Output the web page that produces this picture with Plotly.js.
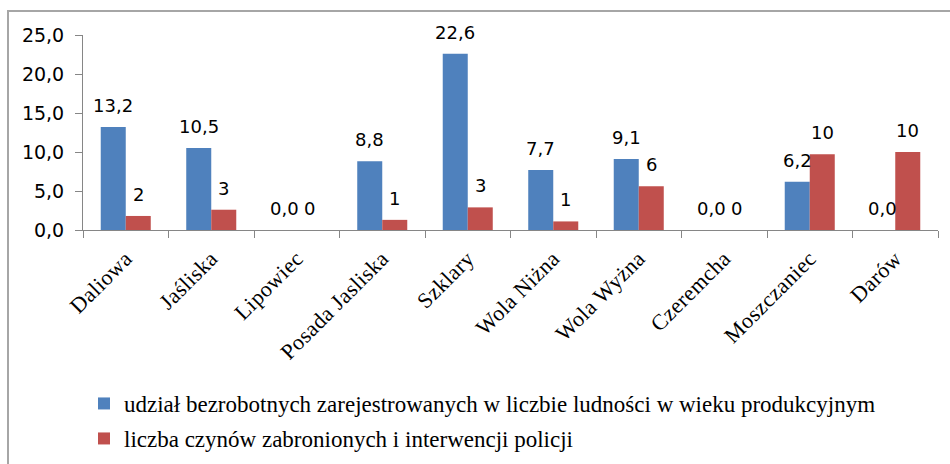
<!DOCTYPE html>
<html>
<head>
<meta charset="utf-8">
<script src="https://cdn.plot.ly/plotly-3.0.1.min.js"></script>
<style>
html,body{margin:0;padding:0;background:#fff;overflow:hidden;width:950px;height:464px;}
#frame{position:absolute;left:7px;top:10px;width:1000px;height:500px;border-left:2px solid #a6a6a6;border-top:2px solid #a6a6a6;box-sizing:border-box;}
#chart{position:absolute;left:0;top:0;width:950px;height:464px;}
#chart .xtick text{letter-spacing:0.4px;}
</style>
</head>
<body>
<div id="frame"></div>
<div id="chart"></div>
<script>
const categories = ["Daliowa","Jaśliska","Lipowiec","Posada Jasliska","Szklary","Wola Niżna","Wola Wyżna","Czeremcha","Moszczaniec","Darów"];
const unemployment = [13.2,10.5,0,8.8,22.6,7.7,9.1,0,6.2,0];
const offences = [1.8,2.6,0,1.3,2.9,1.1,5.6,0,9.7,10.0];
const seriesNames = ["udział bezrobotnych zarejestrowanych w liczbie ludności w wieku produkcyjnym","liczba czynów zabronionych i interwencji policji"];
const yTicks = [0,5,10,15,20,25];

const blue = "#4F81BD", red = "#C0504D";
const labelFont = {family:"DejaVu Sans", size:18, color:"#000"};
const tickSerif = {family:"Liberation Serif", size:22, color:"#000"};
const legendFont = {family:"Liberation Serif", size:23, color:"#000"};

const traces = [
  {type:"bar", x:categories, y:unemployment, name:seriesNames[0], marker:{color:blue}, legend:"legend", hoverinfo:"none"},
  {type:"bar", x:categories, y:offences, name:seriesNames[1], marker:{color:red}, legend:"legend2", hoverinfo:"none"}
];

const fmt1 = v => v.toFixed(1).replace(".", ",");
const annotations = [];
categories.forEach((c,i)=>{
  annotations.push({x:c, y:unemployment[i], xref:"x", yref:"y", text:fmt1(unemployment[i]), showarrow:false, xshift:-12.5, yshift:9, yanchor:"bottom", font:labelFont});
  annotations.push({x:c, y:offences[i], xref:"x", yref:"y", text:String(Math.round(offences[i])), showarrow:false, xshift:12.5, yshift:9, yanchor:"bottom", font:labelFont});
});

const plotH = 195;
const layout = {
  width:950, height:464,
  margin:{l:83, r:12, t:35, b:234, pad:0, autoexpand:false},
  paper_bgcolor:"rgba(0,0,0,0)", plot_bgcolor:"rgba(0,0,0,0)",
  separators:", ",
  barmode:"group", bargap:0.415, bargroupgap:0,
  showlegend:true,
  xaxis:{type:"category", showline:true, linecolor:"#868686", linewidth:1, ticks:"outside", tickson:"boundaries", ticklen:7, tickcolor:"#868686", tickangle:-45, ticklabelstandoff:6, tickfont:tickSerif, showgrid:false, zeroline:false, fixedrange:true, automargin:false},
  yaxis:{range:[0,25], tickvals:yTicks, tickformat:".1f", showline:true, linecolor:"#868686", linewidth:1, ticks:"outside", ticklen:7, tickcolor:"#868686", ticklabelstandoff:7, tickfont:{family:"DejaVu Sans", size:19, color:"#000"}, showgrid:false, zeroline:false, fixedrange:true, automargin:false},
  legend:{x:(84-83)/855, xanchor:"left", y:-(382-230)/plotH, yanchor:"top", font:legendFont, bgcolor:"rgba(0,0,0,0)", itemwidth:30},
  legend2:{x:(84-83)/855, xanchor:"left", y:-(417-230)/plotH, yanchor:"top", font:legendFont, bgcolor:"rgba(0,0,0,0)", itemwidth:30},
  annotations:annotations
};

Plotly.newPlot("chart", traces, layout, {displayModeBar:false, staticPlot:true});
</script>
</body>
</html>
